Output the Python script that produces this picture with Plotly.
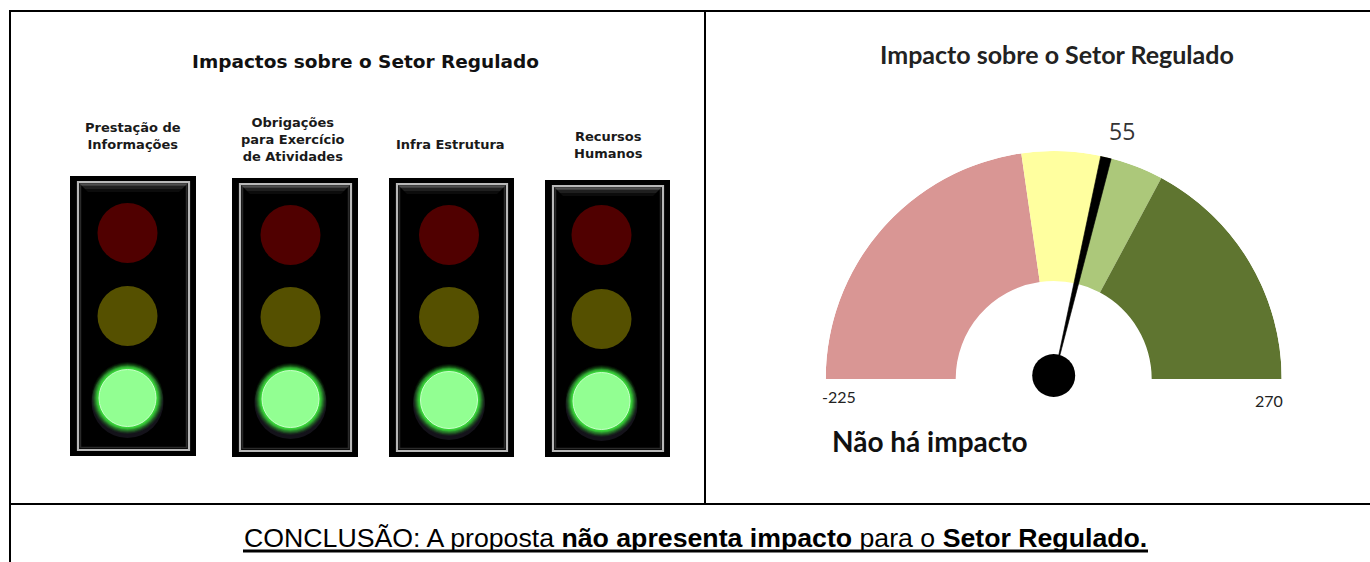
import plotly.graph_objects as go

# --- data -------------------------------------------------------------
gauge_title = "Impacto sobre o Setor Regulado"
panel_title = "Impactos sobre o Setor Regulado"
light_labels = ["Prestação de<br>Informações", "Obrigações<br>para Exercício<br>de Atividades",
                "Infra Estrutura", "Recursos<br>Humanos"]
gauge_min, gauge_max = -225, 270
gauge_edges = [-225, 0, 59, 100, 270]
gauge_colors = ["#d99694", "#ffff9f", "#acc87a", "#5f7530"]
needle_label = 55
needle_position = 59
verdict = "Não há impacto"
conclusion = ("CONCLUSÃO: A proposta <b>não apresenta impacto</b> para o "
              "<b>Setor Regulado.</b>")

# traffic light geometry
house_x0 = [70, 232, 389, 545]
house_x1 = [196, 358, 514, 670]
house_y0 = [176, 178, 178, 180]
house_y1 = [456, 457, 457, 457]
lamp_x = [127.5, 290.5, 449, 601.5]
lamp_red_y = [233, 235, 235, 235]
lamp_yellow_y = [316, 317, 317, 319]
lamp_green_y = [398, 399, 400, 401]
lamp_haze_y = [402, 403, 404, 405]
label_x = [133, 293, 450, 608]
label_y = [136, 139.5, 144, 145]

# gauge placement in pixels
cx, cy, R, r_in = 1053.7, 379, 228, 98
W, H = 1370, 562


def to_deg(v):
    return (v - gauge_min) / (gauge_max - gauge_min) * 180


fig = go.Figure()
shapes, notes = [], []

# --- table rules
rule = dict(type="line", xref="x", yref="y", line=dict(color="black", width=2), layer="above")
shapes += [dict(rule, x0=9, x1=W, y0=11, y1=11),
           dict(rule, x0=10, x1=10, y0=11, y1=H),
           dict(rule, x0=705, x1=705, y0=11, y1=504),
           dict(rule, x0=10, x1=W, y0=504, y1=504),
           dict(rule, x0=243, x1=1148, y0=551, y1=551, line=dict(color="black", width=3))]

# --- traffic lights
for x0, x1, y0, y1 in zip(house_x0, house_x1, house_y0, house_y1):
    shapes.append(dict(type="rect", xref="x", yref="y", x0=x0, x1=x1, y0=y0, y1=y1,
                       fillcolor="black", line=dict(width=0), layer="below"))
    for depth, alpha in [(10, 0.08), (7, 0.14), (4, 0.22)]:
        shapes.append(dict(type="path", xref="x", yref="y",
                           path=f"M{x0+8},{y0+6} L{x1-7},{y0+6} L{x1-7-depth},{y0+6+depth} L{x0+8+depth},{y0+6+depth} Z",
                           fillcolor=f"rgba(150,150,150,{alpha})", line=dict(width=0), layer="below"))
    shapes.append(dict(type="rect", xref="x", yref="y", x0=x0 + 10.5, x1=x1 - 9.5, y0=y0 + 8.5, y1=y1 - 8.5,
                       fillcolor="rgba(0,0,0,0)", line=dict(color="rgba(120,120,120,0.35)", width=1.5), layer="below"))
    shapes.append(dict(type="rect", xref="x", yref="y", x0=x0 + 8, x1=x1 - 7, y0=y0 + 6, y1=y1 - 6,
                       fillcolor="rgba(0,0,0,0)", line=dict(color="#b8b8b8", width=2.2), layer="below"))

fig.add_trace(go.Scatter(x=lamp_x, y=lamp_haze_y, mode="markers", hoverinfo="skip", showlegend=False,
                         marker=dict(size=72, color="rgba(90,80,120,0.22)", line=dict(width=0))))
glow_sizes = [72, 70, 68, 66, 64, 62, 60]
glow_alphas = [0.08, 0.12, 0.18, 0.25, 0.35, 0.5, 0.7]
for size, alpha in zip(glow_sizes, glow_alphas):
    fig.add_trace(go.Scatter(x=lamp_x, y=lamp_green_y, mode="markers", hoverinfo="skip", showlegend=False,
                             marker=dict(size=size, color=f"rgba(60,225,60,{alpha})", line=dict(width=0))))
fig.add_trace(go.Scatter(x=lamp_x, y=lamp_red_y, mode="markers", showlegend=False, hoverinfo="skip",
                         marker=dict(size=60, color="#500000", line=dict(width=0))))
fig.add_trace(go.Scatter(x=lamp_x, y=lamp_yellow_y, mode="markers", showlegend=False, hoverinfo="skip",
                         marker=dict(size=60, color="#555000", line=dict(width=0))))
fig.add_trace(go.Scatter(x=lamp_x, y=lamp_green_y, mode="markers", showlegend=False, hoverinfo="skip",
                         marker=dict(size=57, color="#92ff92", line=dict(width=1, color="#c8ffc8"))))

# --- gauge
starts = [to_deg(v) for v in gauge_edges[:-1]]
ends = [to_deg(v) for v in gauge_edges[1:]]
fig.add_trace(go.Barpolar(
    theta=[(a + b) / 2 for a, b in zip(starts, ends)],
    width=[b - a for a, b in zip(starts, ends)],
    r=[R - r_in] * len(starts), base=[r_in] * len(starts),
    marker=dict(color=gauge_colors, line=dict(width=0)),
    hoverinfo="skip", showlegend=False, subplot="polar"))
needle_deg = to_deg(needle_position)
half_w = 1.35
fig.add_trace(go.Scatterpolar(
    r=[0, R, R, 0], theta=[needle_deg, needle_deg - half_w, needle_deg + half_w, needle_deg],
    mode="lines", fill="toself", fillcolor="black", line=dict(color="black", width=0.6),
    hoverinfo="skip", showlegend=False, subplot="polar"))
fig.add_trace(go.Scatterpolar(
    r=[3.5], theta=[90], mode="markers", marker=dict(size=43, color="black", line=dict(width=0)),
    cliponaxis=False, hoverinfo="skip", showlegend=False, subplot="polar"))


def note(x, y, text, size, color="black", family="Liberation Sans", bold=False):
    notes.append(dict(x=x, y=y, xref="x", yref="y", text=f"<b>{text}</b>" if bold else text,
                      showarrow=False, xanchor="center", yanchor="middle", align="center",
                      font=dict(size=size, color=color, family=family)))


note(365, 61, panel_title, 18.5, "#111111", "DejaVu Sans", bold=True)
for x, y, t in zip(label_x, label_y, light_labels):
    note(x, y, t, 13, "#1a1a1a", "DejaVu Sans", bold=True)
note(1057, 54, gauge_title, 25, "#222222", "Lato", bold=True)
note(1122, 131, str(needle_label), 23, "#333333", "Open Sans")
note(839, 396, str(gauge_min), 16, "#222222", "Lato")
note(1269, 400, str(gauge_max), 16, "#222222", "Lato")
note(930, 441, verdict, 28, "#111111", "Lato", bold=True)
note(695.5, 538, conclusion, 26.7, "black")

fig.update_layout(
    width=W, height=H, margin=dict(l=0, r=0, t=0, b=0),
    paper_bgcolor="white", plot_bgcolor="white",
    xaxis=dict(range=[0, W], visible=False, fixedrange=True, domain=[0, 1]),
    yaxis=dict(range=[H, 0], visible=False, fixedrange=True, domain=[0, 1]),
    polar=dict(
        domain=dict(x=[(cx - R) / W, (cx + R) / W], y=[(H - cy) / H, (H - cy + R) / H]),
        sector=[0, 180], bgcolor="rgba(0,0,0,0)",
        angularaxis=dict(visible=False, rotation=180, direction="clockwise", thetaunit="degrees"),
        radialaxis=dict(visible=False, range=[0, R]),
    ),
    shapes=shapes, annotations=notes, showlegend=False,
)
fig.write_html("out.html", config=dict(displayModeBar=False),
               post_script="document.body.style.margin='0';document.body.style.overflow='hidden';")
